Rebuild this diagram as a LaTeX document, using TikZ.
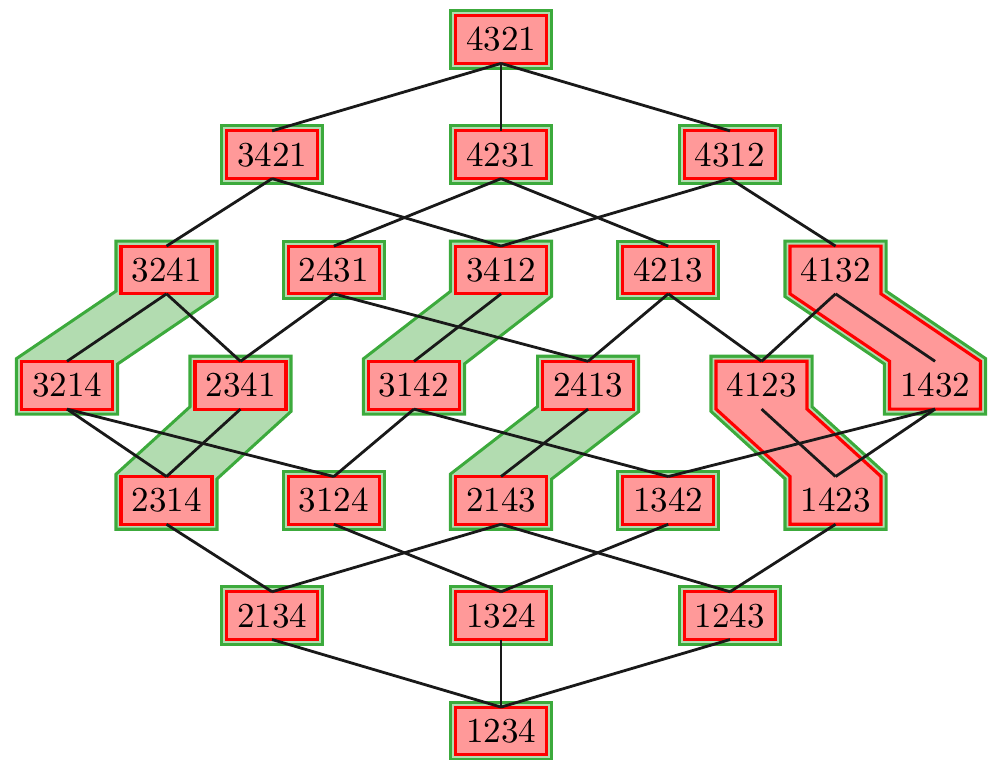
\documentclass[tikz,border=0pt]{standalone}
\usepackage{tikz}
\usetikzlibrary{backgrounds}
\definecolor{hlgreen}{HTML}{3CAA3C}
\definecolor{hlgreenfill}{HTML}{B2DCB0}
\definecolor{hlpink}{HTML}{FF9999}

% outline of one box, and of two boxes joined by a band
\newcommand{\onepath}[1]{(#1.north west) -- (#1.north east) -- (#1.south east) -- (#1.south west) -- cycle}
\newcommand{\twopath}[2]{(#1.north west) -- (#1.north east) -- (#1.south east) -- (#2.north east) -- (#2.south east) -- (#2.south west) -- (#2.north west) -- (#1.south west) -- cycle}
\newcommand{\greenhull}[1]{\draw[hullout] #1; \draw[hullin] #1; \fill[hlgreenfill] #1;}

\begin{document}
\begin{tikzpicture}[
  perm/.style={inner xsep=3pt, inner ysep=3.33pt, outer sep=0pt},
  redbox/.style={draw=red, fill=hlpink, line width=0.9pt, line join=miter},
  hullout/.style={draw=hlgreen, line width=3.76pt, line join=miter},
  hullin/.style={draw=hlgreenfill, line width=1.96pt, line join=miter},
  cover/.style={line width=0.8pt, black!90}
]
\useasboundingbox (0,0) rectangle (9.971,7.631);
\node[perm] (p4321) at (5.031,7.234) {4321};
\node[perm] (p3421) at (2.732,6.077) {3421};
\node[perm] (p4231) at (5.031,6.077) {4231};
\node[perm] (p4312) at (7.330,6.077) {4312};
\node[perm] (p3241) at (1.672,4.920) {3241};
\node[perm] (p2431) at (3.352,4.920) {2431};
\node[perm] (p3412) at (5.031,4.920) {3412};
\node[perm] (p4213) at (6.710,4.920) {4213};
\node[perm] (p4132) at (8.390,4.920) {4132};
\node[perm] (p3214) at (0.673,3.763) {3214};
\node[perm] (p2341) at (2.415,3.763) {2341};
\node[perm] (p3142) at (4.157,3.763) {3142};
\node[perm] (p2413) at (5.905,3.763) {2413};
\node[perm] (p4123) at (7.647,3.763) {4123};
\node[perm] (p1432) at (9.389,3.763) {1432};
\node[perm] (p2314) at (1.672,2.606) {2314};
\node[perm] (p3124) at (3.352,2.606) {3124};
\node[perm] (p2143) at (5.031,2.606) {2143};
\node[perm] (p1342) at (6.710,2.606) {1342};
\node[perm] (p1423) at (8.390,2.606) {1423};
\node[perm] (p2134) at (2.732,1.449) {2134};
\node[perm] (p1324) at (5.031,1.449) {1324};
\node[perm] (p1243) at (7.330,1.449) {1243};
\node[perm] (p1234) at (5.031,0.291) {1234};

\begin{scope}[on background layer]
% green classes
\foreach \p in {p4321,p3421,p4231,p4312,p2431,p4213,p3124,p1342,p2134,p1324,p1243,p1234}
  {\greenhull{\onepath{\p}}}
\foreach \u/\l in {p3241/p3214,p2341/p2314,p3412/p3142,p2413/p2143,p4132/p1432,p4123/p1423}
  {\greenhull{\twopath{\u}{\l}}}
% red classes
\foreach \p in {p4321,p3421,p4231,p4312,p2431,p4213,p3124,p1342,p2134,p1324,p1243,p1234,
                p3241,p3214,p2341,p2314,p3412,p3142,p2413,p2143}
  {\draw[redbox] \onepath{\p};}
\foreach \u/\l in {p4132/p1432,p4123/p1423}
  {\draw[redbox] \twopath{\u}{\l};}
% cover relations
\foreach \a/\b in {p4321/p3421,p4321/p4231,p4321/p4312,
                   p3421/p3241,p3421/p3412,p4231/p2431,p4231/p4213,p4312/p3412,p4312/p4132,
                   p3241/p3214,p3241/p2341,p2431/p2341,p2431/p2413,p3412/p3142,
                   p4213/p2413,p4213/p4123,p4132/p4123,p4132/p1432,
                   p3214/p2314,p3214/p3124,p2341/p2314,p3142/p3124,p3142/p1342,
                   p2413/p2143,p4123/p1423,p1432/p1342,p1432/p1423,
                   p2314/p2134,p3124/p1324,p2143/p2134,p2143/p1243,p1342/p1324,p1423/p1243,
                   p2134/p1234,p1324/p1234,p1243/p1234}
  {\draw[cover] (\a.south) -- (\b.north);}
\end{scope}
\end{tikzpicture}
\end{document}
